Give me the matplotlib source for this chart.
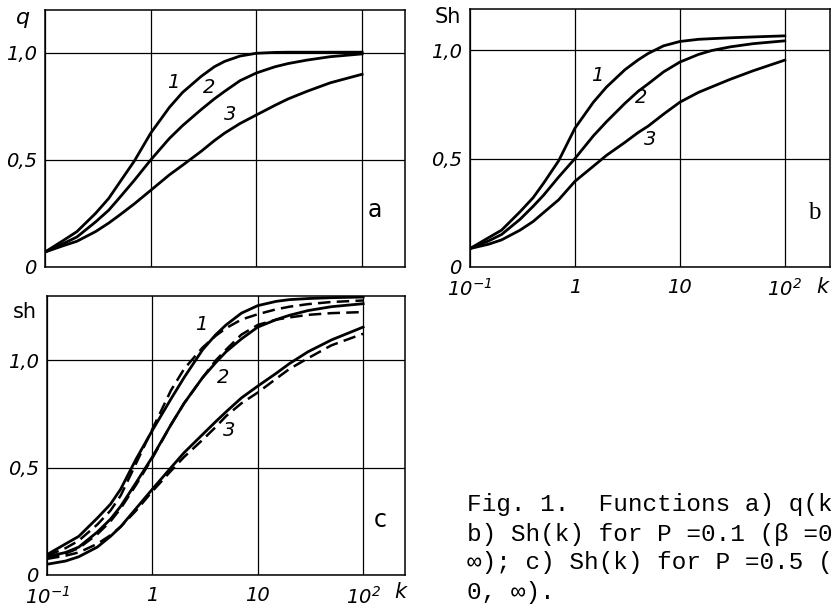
import numpy as np
import matplotlib
matplotlib.use("Agg")
import matplotlib.pyplot as plt
from matplotlib.ticker import NullLocator

plt.rcParams['font.family'] = ['DejaVu Sans']
plt.rcParams['mathtext.fontset'] = 'custom'
plt.rcParams['mathtext.rm'] = 'DejaVu Sans:italic'
plt.rcParams['mathtext.it'] = 'DejaVu Sans:italic'

# ===== data =====
k = [0.1, 0.15, 0.2, 0.3, 0.4, 0.5, 0.7, 1, 1.5, 2, 3, 4, 5, 7, 10, 15, 20, 30, 50, 100]

# a) q(k)
q1 = [0.07, 0.125, 0.165, 0.25, 0.32, 0.39, 0.495, 0.625, 0.745, 0.815, 0.89, 0.935, 0.96, 0.985, 0.998, 1.002, 1.003, 1.003, 1.003, 1.003]
q2 = [0.07, 0.11, 0.14, 0.21, 0.265, 0.32, 0.405, 0.50, 0.60, 0.66, 0.735, 0.785, 0.82, 0.87, 0.906, 0.935, 0.95, 0.966, 0.982, 0.995]
q3 = [0.07, 0.10, 0.12, 0.165, 0.205, 0.24, 0.295, 0.358, 0.43, 0.475, 0.54, 0.59, 0.625, 0.67, 0.71, 0.755, 0.785, 0.82, 0.86, 0.90]

# b) Sh(k), P = 0.1
b1 = [0.085, 0.135, 0.17, 0.255, 0.32, 0.385, 0.49, 0.64, 0.76, 0.83, 0.91, 0.955, 0.985, 1.02, 1.04, 1.05, 1.053, 1.057, 1.061, 1.066]
b2 = [0.085, 0.12, 0.15, 0.22, 0.28, 0.33, 0.415, 0.50, 0.605, 0.67, 0.755, 0.81, 0.845, 0.90, 0.945, 0.98, 0.998, 1.015, 1.03, 1.043]
b3 = [0.085, 0.105, 0.125, 0.17, 0.21, 0.25, 0.31, 0.395, 0.465, 0.515, 0.575, 0.62, 0.65, 0.705, 0.76, 0.805, 0.83, 0.865, 0.905, 0.954]

# c) Sh(k), P = 0.5 -- solid and dashed
c1 = [0.095, 0.145, 0.18, 0.265, 0.33, 0.40, 0.54, 0.674, 0.82, 0.92, 1.05, 1.12, 1.165, 1.22, 1.255, 1.275, 1.283, 1.288, 1.292, 1.295]
c2 = [0.085, 0.105, 0.13, 0.20, 0.26, 0.32, 0.43, 0.55, 0.70, 0.80, 0.92, 0.99, 1.04, 1.10, 1.155, 1.19, 1.21, 1.232, 1.25, 1.264]
c3 = [0.05, 0.065, 0.085, 0.13, 0.18, 0.225, 0.31, 0.40, 0.50, 0.57, 0.655, 0.715, 0.76, 0.825, 0.88, 0.94, 0.985, 1.04, 1.095, 1.155]
c1d = [0.09, 0.125, 0.16, 0.235, 0.30, 0.37, 0.52, 0.68, 0.86, 0.96, 1.06, 1.115, 1.15, 1.19, 1.215, 1.238, 1.25, 1.262, 1.272, 1.279]
c2d = [0.08, 0.10, 0.125, 0.19, 0.25, 0.31, 0.42, 0.545, 0.70, 0.80, 0.92, 1.0, 1.05, 1.12, 1.165, 1.19, 1.2, 1.212, 1.22, 1.225]
c3d = [0.075, 0.09, 0.105, 0.145, 0.185, 0.225, 0.30, 0.39, 0.485, 0.55, 0.63, 0.69, 0.74, 0.80, 0.85, 0.915, 0.96, 1.01, 1.07, 1.124]

xtick_vals = [0.1, 1, 10, 100]
xtick_labels = [r'$10^{-1}$', '1', '10', r'$10^{2}$']
ytick_vals = [0, 0.5, 1.0]
ytick_labels = ['0', '0,5', '1,0']

fig = plt.figure(figsize=(8.31, 6.10), dpi=100)

ax_a = fig.add_axes([0.0542, 0.5623, 0.4332, 0.4213])
ax_b = fig.add_axes([0.5656, 0.5623, 0.4332, 0.4230])
ax_c = fig.add_axes([0.0566, 0.0574, 0.4308, 0.4574])


def setup(ax, xmax, ymax, xlabels):
    ax.set_xscale('log')
    ax.set_xlim(0.1, xmax)
    ax.set_ylim(0, ymax)
    ax.xaxis.set_minor_locator(NullLocator())
    ax.set_xticks(xtick_vals)
    ax.set_yticks(ytick_vals)
    ax.set_yticklabels(ytick_labels, fontsize=14, fontstyle='italic')
    if xlabels:
        ax.set_xticklabels(xtick_labels, fontsize=14, fontstyle='italic')
    else:
        ax.set_xticklabels([])
    ax.tick_params(length=0, pad=6)
    ax.tick_params(axis='x', pad=8)
    ax.grid(True, color='black', lw=0.9)
    for s in ax.spines.values():
        s.set_linewidth(1.1)


setup(ax_a, 255, 1.20, False)
setup(ax_b, 270, 1.19, True)
setup(ax_c, 250, 1.30, True)

lw = 2.0
for y in (q1, q2, q3):
    ax_a.plot(k, y, color='black', lw=lw)
for y in (b1, b2, b3):
    ax_b.plot(k, y, color='black', lw=lw)
for y in (c1, c2, c3):
    ax_c.plot(k, y, color='black', lw=lw)
for y in (c1d, c2d, c3d):
    ax_c.plot(k, y, color='black', lw=1.8, dashes=(5, 2.5))

# curve numbers
lab = dict(fontsize=14, fontstyle='italic', ha='center', va='center')
ax_a.text(1.62, 0.86, '1', **lab)
ax_a.text(3.6, 0.84, '2', **lab)
ax_a.text(5.6, 0.71, '3', **lab)
ax_b.text(1.62, 0.885, '1', **lab)
ax_b.text(4.3, 0.78, '2', **lab)
ax_b.text(5.2, 0.59, '3', **lab)
ax_c.text(2.9, 1.165, '1', **lab)
ax_c.text(4.7, 0.92, '2', **lab)
ax_c.text(5.4, 0.675, '3', **lab)

# axis names
ax_a.text(-0.061, 0.97, 'q', transform=ax_a.transAxes, fontsize=16,
          fontstyle='italic', ha='center', va='center')
ax_b.text(-0.061, 0.97, 'Sh', transform=ax_b.transAxes, fontsize=15,
          ha='center', va='center')
ax_c.text(-0.061, 0.943, 'sh', transform=ax_c.transAxes, fontsize=15,
          ha='center', va='center')
ax_b.text(0.98, -0.078, 'k', transform=ax_b.transAxes, fontsize=15,
          fontstyle='italic', ha='center', va='center')
ax_c.text(0.986, -0.062, 'k', transform=ax_c.transAxes, fontsize=15,
          fontstyle='italic', ha='center', va='center')

# panel letters
ax_a.text(0.895, 0.22, 'a', transform=ax_a.transAxes, fontsize=17,
          ha='left', va='center')
ax_b.text(0.955, 0.21, 'b', transform=ax_b.transAxes, fontsize=18,
          family='Liberation Serif', ha='center', va='center')
ax_c.text(0.93, 0.197, 'c', transform=ax_c.transAxes, fontsize=17,
          ha='center', va='center')

# caption
caption = ['Fig. 1.  Functions a) q(k',
           'b) Sh(k) for P =0.1 (\u03b2 =0',
           '\u221e); c) Sh(k) for P =0.5 (',
           '0, \u221e).']
cap_y = [505, 534, 563, 592]
for line, yy in zip(caption, cap_y):
    fig.text(467 / 831, 1 - yy / 610, line, fontsize=17.6, va='center', ha='left',
             family=['Liberation Mono', 'DejaVu Sans Mono'])

fig.savefig('out.png', dpi=100)
